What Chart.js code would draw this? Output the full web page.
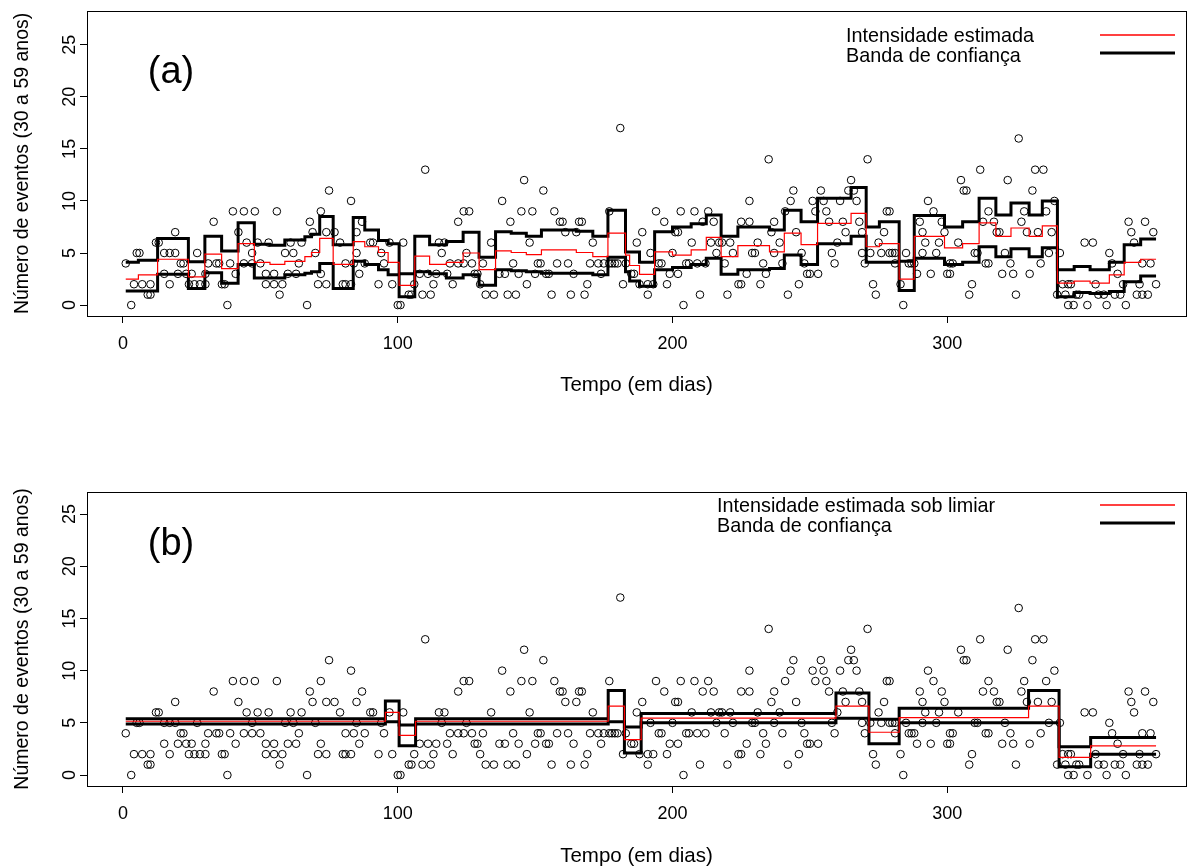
<!DOCTYPE html>
<html>
<head>
<meta charset="utf-8">
<script src="https://cdn.jsdelivr.net/npm/chart.js@4/dist/chart.umd.min.js"></script>
<style>
  html, body { margin: 0; padding: 0; background: #fff; }
  .panel { position: absolute; left: 0; width: 1191px; }
  #wrapA { top: 0; height: 433px; }
  #wrapB { top: 433px; height: 434px; }
</style>
</head>
<body>
<div class="panel" id="wrapA"><canvas id="chartA" width="1191" height="433"></canvas></div>
<div class="panel" id="wrapB"><canvas id="chartB" width="1191" height="434"></canvas></div>
<script>
// ---------------- data ----------------
const xTicks = [0, 100, 200, 300];
const yTicks = [0, 5, 10, 15, 20, 25];

// daily counts (same points in both panels)
const eventDays = [
  1,3,4,5,6,7,9,10,10,12,13,15,15,17,17,19,19,20,21,22,23,24,25,26,27,28,30,30,31,33,34,35,36,37,38,39,40,
  41,42,44,44,45,47,47,48,49,50,52,52,53,55,55,56,57,58,59,60,61,62,63,64,65,67,68,69,70,71,72,72,74,74,75,77,79,80,81,81,83,83,84,85,85,
  86,87,88,90,91,93,94,95,97,98,100,101,102,104,105,106,108,109,110,111,112,113,114,115,116,117,118,119,120,122,122,124,124,125,127,128,
  126,129,130,131,132,134,135,137,138,139,140,141,142,143,144,145,146,147,148,149,150,151,152,153,154,155,156,157,158,159,160,161,162,163,164,165,166,167,168,169,170,171,173,174,175,177,177,178,
  179,180,181,182,183,185,186,187,188,189,191,191,192,193,194,195,196,197,198,199,200,201,202,202,203,204,205,206,207,208,209,210,211,212,213,214,215,216,217,218,219,220,221,222,224,225,225,227,228,228,229,
  230,231,232,233,234,235,236,237,237,239,240,241,242,243,244,245,246,247,248,249,250,251,252,253,254,255,256,257,258,259,260,261,262,263,264,265,266,267,268,269,269,270,271,272,273,274,275,276,277,278,
  279,279,280,281,281,283,284,285,286,287,288,289,290,291,291,292,293,294,295,296,297,298,299,300,301,301,302,304,305,306,307,308,309,310,311,312,313,314,315,315,317,318,319,320,321,322,323,324,325,326,327,328,329,330,331,332,
  333,334,335,336,337,338,339,340,341,342,343,344,344,345,346,347,348,350,351,353,354,355,357,358,359,360,361,362,363,364,365,366,367,368,369,370,371,371,372,373,374,375,376
];
const eventCounts = [
  4,0,2,5,5,2,1,1,2,6,6,3,5,2,5,5,7,3,4,4,3,2,3,2,5,2,2,3,4,8,4,4,2,2,0,4,9,
  3,7,9,4,6,4,5,9,6,4,3,2,6,3,2,9,1,2,5,3,6,5,3,4,6,0,8,7,5,2,9,3,2,7,11,7,6,2,2,4,2,10,4,7,5,
  3,8,4,6,6,2,5,4,6,2,0,0,6,1,1,2,3,1,13,3,1,2,3,6,5,6,3,4,2,4,8,4,9,5,4,3,
  9,3,2,4,1,6,1,3,10,3,1,8,4,1,3,9,12,2,6,9,3,4,4,11,3,3,1,9,4,8,8,7,4,1,3,7,8,8,1,2,4,6,4,3,4,4,9,4,
  4,4,17,2,4,3,3,6,2,7,2,1,5,2,9,4,4,8,2,3,5,7,7,3,9,0,4,4,6,9,4,1,8,4,9,6,8,5,6,6,4,1,6,5,2,2,8,3,10,8,5,
  5,6,2,4,3,14,7,8,5,6,4,9,1,10,11,7,2,5,4,3,3,10,9,3,11,10,9,8,5,4,6,10,8,7,11,12,11,10,8,7,5,4,14,5,2,1,6,5,7,9,
  9,5,5,4,5,2,0,5,4,4,4,3,8,7,5,6,10,3,9,5,6,8,7,3,3,4,4,6,12,11,11,1,2,5,5,13,8,4,4,9,8,7,7,3,5,12,4,3,1,16,8,9,7,3,11,13,
  7,4,13,9,5,7,10,1,5,2,1,2,0,2,0,1,1,6,0,6,2,1,1,0,5,4,1,3,1,2,0,8,7,6,1,2,4,1,8,1,4,7,2
];

// panel (a): change points and levels of the estimated intensity and its band
const aBreaks = [1,5.6,12.6,23.8,29.8,35.9,41.9,47.8,53.5,58.9,66.2,68.6,71.6,76.5,83.8,88,93,96.5,100.5,106.2,
  111.6,117.7,123.8,129.6,135.6,141.3,146.8,152.3,165,171,176.5,182.9,184.4,188,193.5,200,206.8,212.3,217.7,223.8,
  235.3,240.7,246.8,252.8,265,270.5,275.3,282.5,288,299,305.6,311.6,317.7,323.2,329.8,334.6,340.1,346.2,352,359,364.4,370.4,376];
const aUpper = [4.1,4.3,6.4,4.15,6.6,5.2,7.9,5.85,5.75,6.25,6.55,6.8,8.5,5.8,8.4,7.2,6.2,5.9,3.0,6.6,
  5.8,6.1,7.0,4.6,7.05,6.9,6.6,7.2,7.1,6.6,9.1,5.1,5.1,4.1,7.05,7.5,7.8,8.65,6.6,7.5,
  7.2,9.1,8.0,10.25,11.3,7.5,8.0,4.2,8.6,7.5,8.0,10.25,8.65,9.8,8.65,10.0,3.4,3.7,3.4,4.1,5.8,6.35];
const aEstimate = [2.5,2.9,4.4,2.7,4.9,3.5,5.9,4.1,3.9,4.2,4.65,5.05,6.4,3.9,6.1,5.6,5.05,4.1,1.9,4.7,
  3.9,4.1,5.0,3.4,5.2,5.05,4.85,5.3,5.05,4.65,6.9,4.8,3.8,2.95,5.1,4.8,5.3,6.5,4.65,5.7,
  5.1,6.9,5.8,7.85,8.8,5.6,5.9,2.5,6.6,5.5,5.9,7.9,6.6,7.4,6.6,7.6,2.1,2.3,2.1,2.9,4.1,4.4];
const aLower = [1.35,1.35,2.95,1.6,3.1,2.1,3.9,2.6,2.6,2.9,3.05,3.2,4.0,1.6,4.2,3.9,3.4,2.9,0.8,3.2,
  3.0,2.6,2.9,1.9,3.4,3.3,3.2,3.05,3.05,2.9,4.6,3.2,2.3,1.8,3.4,3.6,3.9,4.5,2.95,3.4,
  3.5,4.8,3.9,5.9,6.6,4.1,4.1,1.4,4.5,3.9,4.1,5.6,4.65,5.4,4.65,5.5,0.8,1.2,1.1,1.3,2.25,2.8];

// panel (b): intensity under threshold
const bBreaks = [1,95.5,100.5,106.5,176.6,182.5,188.6,259.5,271.5,282.5,329.6,340.7,352.2,376];
const bUpper = [5.4,7.1,4.8,5.4,8.1,4.6,5.9,7.85,5.35,6.4,8.1,2.7,3.6];
const bEstimate = [5.15,6.0,3.8,5.15,6.6,3.4,5.45,6.6,4.1,5.5,6.6,1.7,2.8];
const bLower = [4.9,5.1,2.8,4.9,5.1,2.1,5.0,5.45,3.0,5.0,5.0,0.8,2.0];

const legendA = ["Intensidade estimada", "Banda de confiança"];
const legendB = ["Intensidade estimada sob limiar", "Banda de confiança"];
const yTitle = "Número de eventos (30 a 59 anos)";
const xTitle = "Tempo (em dias)";

// ---------------- helpers ----------------
Chart.defaults.font.family = '"Liberation Sans", Arial, sans-serif';
Chart.defaults.color = "#000";

function stepPoints(breaks, levels) {
  const pts = levels.map((v, i) => ({ x: breaks[i], y: v }));
  pts.push({ x: breaks[breaks.length - 1], y: levels[levels.length - 1] });
  return pts;
}

const eventPoints = eventDays.map((d, i) => ({ x: d, y: eventCounts[i] }));

// box, panel letter and R-like legend
const decor = {
  id: "decor",
  afterDraw(chart, args, o) {
    const ctx = chart.ctx;
    const a = chart.chartArea;
    ctx.save();
    ctx.strokeStyle = "#000";
    ctx.lineWidth = 1;
    ctx.strokeRect(Math.round(a.left) + 0.5, Math.round(a.top) + 0.5,
      Math.round(a.right - a.left), Math.round(a.bottom - a.top));

    ctx.fillStyle = "#000";
    ctx.font = '38px "Liberation Sans", Arial, sans-serif';
    ctx.textAlign = "center";
    ctx.textBaseline = "middle";
    ctx.fillText(o.tag, o.tagX, o.tagY);

    ctx.font = '19.8px "Liberation Sans", Arial, sans-serif';
    ctx.textAlign = "left";
    o.items.forEach((txt, i) => {
      ctx.fillStyle = "#000";
      ctx.fillText(txt, o.textX, o.textY[i]);
      ctx.beginPath();
      ctx.strokeStyle = i === 0 ? "#ff0000" : "#000000";
      ctx.lineWidth = i === 0 ? 1.5 : 3;
      ctx.moveTo(1100, o.lineY[i]);
      ctx.lineTo(1175, o.lineY[i]);
      ctx.stroke();
    });
    ctx.restore();
  }
};

function makePanel(canvasId, upper, estimate, lower, breaks, yMax, padTop, xHeight, xTitlePad, decorOpts) {
  return new Chart(document.getElementById(canvasId), {
    type: "scatter",
    data: {
      datasets: [
        {
          type: "line", data: stepPoints(breaks, estimate), stepped: true,
          borderColor: "#ff0000", borderWidth: 1.2, pointRadius: 0, fill: false, order: 1
        },
        {
          type: "line", data: stepPoints(breaks, upper), stepped: true,
          borderColor: "#000", borderWidth: 3, pointRadius: 0, fill: false, order: 2
        },
        {
          type: "line", data: stepPoints(breaks, lower), stepped: true,
          borderColor: "#000", borderWidth: 3, pointRadius: 0, fill: false, order: 2
        },
        {
          data: eventPoints, pointStyle: "circle", pointRadius: 3.8,
          borderColor: "#000", borderWidth: 1, backgroundColor: "rgba(0,0,0,0)", order: 3
        }
      ]
    },
    options: {
      responsive: false,
      animation: false,
      layout: { padding: { top: padTop, right: 4, left: 0, bottom: 0 } },
      plugins: { legend: { display: false }, tooltip: { enabled: false }, decor: decorOpts },
      scales: {
        x: {
          type: "linear", min: -13.1, max: 386.9,
          afterBuildTicks: (s) => { s.ticks = xTicks.map((v) => ({ value: v })); },
          afterFit: (s) => { s.height = xHeight; },
          grid: { drawOnChartArea: false, drawTicks: true, tickLength: 7, color: "#000" },
          border: { display: false },
          ticks: { color: "#000", font: { size: 18 }, padding: 10, maxRotation: 0 },
          title: { display: true, text: xTitle, color: "#000",
            font: { size: 20.5, lineHeight: 1 }, padding: { top: 0, bottom: xTitlePad } }
        },
        y: {
          min: -1.05, max: yMax,
          afterBuildTicks: (s) => { s.ticks = yTicks.map((v) => ({ value: v })); },
          afterFit: (s) => { s.width = 87; },
          grid: { drawOnChartArea: false, drawTicks: true, tickLength: 7, color: "#000" },
          border: { display: false },
          ticks: { color: "#000", font: { size: 18 }, padding: 0, minRotation: 90, maxRotation: 90, crossAlign: "center" },
          title: { display: true, text: yTitle, color: "#000",
            font: { size: 19.5, lineHeight: 1 }, padding: { top: 12.5, bottom: 0 } }
        }
      }
    },
    plugins: [decor]
  });
}

makePanel("chartA", aUpper, aEstimate, aLower, aBreaks, 28.26, 10, 117, 37, {
  tag: "(a)", tagX: 171, tagY: 73,
  items: legendA, textX: 846, textY: [37, 57], lineY: [35, 53]
});

makePanel("chartB", bUpper, bEstimate, bLower, bBreaks, 27.11, 59, 81, 0, {
  tag: "(b)", tagX: 171, tagY: 112,
  items: legendB, textX: 717, textY: [74, 94], lineY: [72, 90]
});
</script>
</body>
</html>
